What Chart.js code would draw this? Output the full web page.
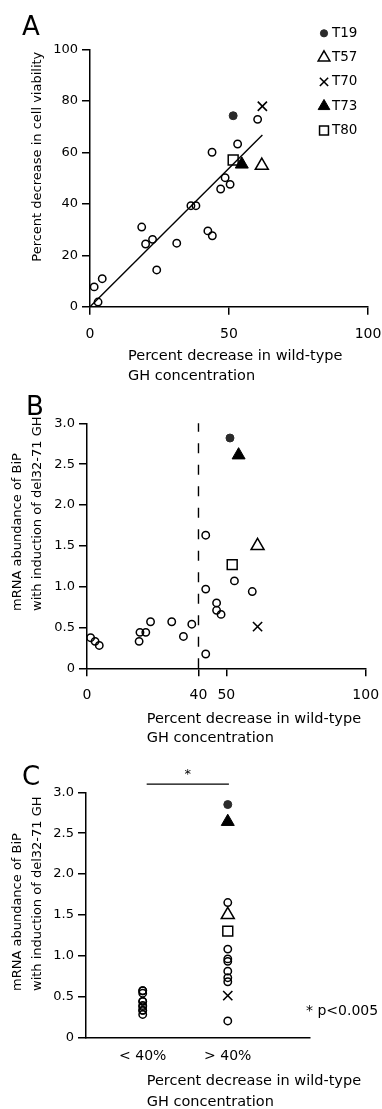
<!DOCTYPE html>
<html>
<head>
<meta charset="utf-8">
<script src="https://cdn.jsdelivr.net/npm/chart.js@4.4.1/dist/chart.umd.min.js"></script>
<style>
  html, body { margin: 0; padding: 0; background: #fff; }
  body { width: 382px; height: 1109px; position: relative; overflow: hidden; }
  canvas { position: absolute; left: 0; }
</style>
</head>
<body>
<canvas id="panelA" width="382" height="390" style="top:0px"></canvas>
<canvas id="panelB" width="382" height="360" style="top:390px"></canvas>
<canvas id="panelC" width="382" height="359" style="top:750px"></canvas>
<script>
// labelled tumours, same order everywhere
var sampleNames = ['T19', 'T57', 'T70', 'T73', 'T80'];

// panel A: decrease in wild-type GH vs decrease in cell viability
var aOpenX = [60.3, 53.1, 43.9, 48.6, 50.4, 47.0, 36.3, 38.1, 18.6, 20.0, 22.5, 31.2, 24.0, 42.4, 44.0, 1.5, 4.4, 2.9];
var aOpenY = [72.9, 63.3, 60.1, 50.2, 47.6, 45.8, 39.3, 39.3, 31.0, 24.4, 26.2, 24.7, 14.3, 29.5, 27.6, 7.7, 10.9, 1.8];
var aSampleX = [51.5, 61.8, 62.0, 54.6, 51.5];
var aSampleY = [74.3, 54.9, 78.0, 55.4, 57.1];
var aFitX = [0, 62];
var aFitY = [0, 66.8];
var aTicksX = [0, 50, 100];
var aTicksY = [0, 20, 40, 60, 80, 100];

// panel B: decrease in wild-type GH vs BiP mRNA
var bOpenX = [42.6, 52.9, 59.3, 42.6, 46.5, 46.5, 48.1, 42.6, 37.6, 34.6, 30.4, 22.8, 21.1, 19.0, 18.7, 1.3, 2.9, 4.4];
var bOpenY = [1.63, 1.07, 0.94, 0.97, 0.80, 0.71, 0.66, 0.175, 0.54, 0.39, 0.57, 0.57, 0.44, 0.44, 0.33, 0.375, 0.33, 0.28];
var bSampleX = [51.3, 61.2, 61.2, 54.4, 52.1];
var bSampleY = [2.82, 1.50, 0.51, 2.61, 1.27];
var bCutX = [40, 40];
var bCutY = [0, 3];
var bTicksX = [0, 40, 50, 100];
var bTicksY = [0, 0.5, 1, 1.5, 2, 2.5, 3];

// panel C: BiP mRNA grouped by GH decrease
var groupLabels = ['< 40%', '> 40%'];
var groupPos = [1, 2.5];
var cLowY = [0.54, 0.39, 0.57, 0.57, 0.44, 0.44, 0.33, 0.375, 0.33, 0.28];
var cHighY = [1.65, 1.08, 0.96, 0.93, 0.81, 0.73, 0.68, 0.20];
var cSampleY = [2.85, 1.50, 0.51, 2.64, 1.30];
var sigBarX = [1.07, 2.52];
var sigBarY = [3.1, 3.1];

var FONT = '"DejaVu Sans", "Liberation Sans", Arial, sans-serif';

var markers = {
    T19: { pointStyle: 'circle', pointRadius: 4, pointBackgroundColor: '#2b2b2b', pointBorderColor: '#2b2b2b', pointBorderWidth: 1 },
    T57: { pointStyle: 'triangle', pointRadius: 7.5, pointBackgroundColor: 'rgba(0,0,0,0)', pointBorderColor: '#000', pointBorderWidth: 1.5 },
    T70: { pointStyle: 'crossRot', pointRadius: 6.5, pointBackgroundColor: 'rgba(0,0,0,0)', pointBorderColor: '#000', pointBorderWidth: 1.6 },
    T73: { pointStyle: 'triangle', pointRadius: 7.5, pointBackgroundColor: '#000', pointBorderColor: '#000', pointBorderWidth: 1 },
    T80: { pointStyle: 'rect', pointRadius: 7, pointBackgroundColor: 'rgba(0,0,0,0)', pointBorderColor: '#000', pointBorderWidth: 1.5 }
};

function pts(xs, ys) {
    return xs.map(function (x, i) { return { x: x, y: ys[i] }; });
}

function column(x, ys) {
    return ys.map(function (y) { return { x: x, y: y }; });
}

function sampleSets(xs, ys) {
    return sampleNames.map(function (name, i) {
        return Object.assign({ label: name, data: [{ x: xs[i], y: ys[i] }] }, markers[name]);
    });
}

function openSet(data) {
    return {
        label: 'other', data: data, pointStyle: 'circle', pointRadius: 3.7,
        pointBackgroundColor: 'rgba(0,0,0,0)', pointBorderColor: '#000', pointBorderWidth: 1.5
    };
}

function lineSet(data, dash) {
    return {
        label: 'line', data: data, showLine: true, pointRadius: 0, borderColor: '#000',
        borderWidth: 1.4, borderDash: dash || [], clip: false
    };
}

function oneDecimal(v) {
    return v === 0 ? '0' : v.toFixed(1);
}

function axis(o) {
    return {
        type: 'linear', min: o.min, max: o.max,
        afterBuildTicks: function (s) { s.ticks = o.ticks.map(function (v) { return { value: v }; }); },
        afterFit: function (s) {
            if (o.width) s.width = o.width;
            if (o.height) s.height = o.height;
            // let layout.padding alone place the plot area
            s.paddingLeft = 0;
            s.paddingRight = 0;
            s.paddingTop = 0;
            s.paddingBottom = 0;
        },
        ticks: {
            color: '#000', font: { family: FONT, size: o.fontSize }, padding: o.pad,
            autoSkip: false, maxRotation: 0, callback: o.format
        },
        grid: { drawOnChartArea: false, drawTicks: o.tickLen > 0, tickLength: o.tickLen, color: '#000', lineWidth: 1.5 },
        border: { color: '#000', width: 1.5 }
    };
}

// panel letters, axis titles, legend and notes
var panelText = {
    id: 'panelText',
    afterDraw: function (chart, args, o) {
        var ctx = chart.ctx, a = chart.chartArea;
        ctx.save();
        ctx.fillStyle = '#000';
        ctx.textAlign = 'left';
        ctx.textBaseline = 'alphabetic';
        ctx.font = '26px ' + FONT;
        ctx.fillText(o.letter, o.letterX, o.letterY);

        ctx.font = '14.5px ' + FONT;
        ctx.textBaseline = 'middle';
        o.xTitle.forEach(function (line, i) {
            ctx.fillText(line, a.left + o.xTitleDx, a.bottom + o.xTitleDy + i * o.xTitleGap);
        });

        ctx.font = '13px ' + FONT;
        o.yTitle.forEach(function (line, i) {
            ctx.save();
            ctx.translate(o.yTitleX[i], o.yTitleY);
            ctx.rotate(-Math.PI / 2);
            ctx.textAlign = o.yTitleAlign;
            ctx.fillText(line, 0, 0);
            ctx.restore();
        });

        if (o.legend) {
            sampleNames.forEach(function (name, i) {
                var m = markers[name];
                var y = 33.3 + i * 24.3;
                ctx.fillStyle = m.pointBackgroundColor;
                ctx.strokeStyle = m.pointBorderColor;
                ctx.lineWidth = m.pointBorderWidth;
                Chart.helpers.drawPoint(ctx, {
                    pointStyle: m.pointStyle, radius: m.pointRadius * 0.9,
                    rotation: 0, borderWidth: m.pointBorderWidth
                }, 324, y);
                ctx.fillStyle = '#000';
                ctx.font = '13.5px ' + FONT;
                ctx.textAlign = 'left';
                ctx.fillText(name, 332, y);
            });
        }

        if (o.star) {
            var xs = chart.scales.x, ys = chart.scales.y;
            ctx.font = '13px ' + FONT;
            ctx.textAlign = 'center';
            ctx.textBaseline = 'bottom';
            ctx.fillText('*', xs.getPixelForValue((sigBarX[0] + sigBarX[1]) / 2), ys.getPixelForValue(sigBarY[0]) - 3);
            ctx.font = '14px ' + FONT;
            ctx.textAlign = 'left';
            ctx.textBaseline = 'middle';
            ctx.fillText(o.note, a.right - 4, a.bottom - 25.6);
        }
        ctx.restore();
    }
};

var xTitleLines = ['Percent decrease in wild-type', 'GH concentration'];
var bipTitle = ['mRNA abundance of BiP', 'with induction of del32-71 GH'];

function makeChart(id, datasets, scales, padding, textOpts) {
    return new Chart(document.getElementById(id), {
        type: 'scatter',
        data: { datasets: datasets },
        options: {
            responsive: false,
            animation: false,
            events: [],
            layout: { padding: padding },
            plugins: { legend: { display: false }, tooltip: { enabled: false }, panelText: textOpts },
            scales: scales
        },
        plugins: [panelText]
    });
}

makeChart('panelA',
    sampleSets(aSampleX, aSampleY).concat([openSet(pts(aOpenX, aOpenY)), lineSet(pts(aFitX, aFitY))]),
    {
        x: axis({ min: 0, max: 100, ticks: aTicksX, fontSize: 14, pad: 11, tickLen: 8, height: 83.3 }),
        y: axis({ min: 0, max: 100, ticks: aTicksY, fontSize: 13, pad: 4, tickLen: 8, width: 90 })
    },
    { left: 0, right: 14, top: 49.7, bottom: 0 },
    {
        letter: 'A', letterX: 22, letterY: 35,
        xTitle: xTitleLines, xTitleDx: 38, xTitleDy: 50, xTitleGap: 20,
        yTitle: ['Percent decrease in cell viability'], yTitleX: [38], yTitleY: 51.7, yTitleAlign: 'right',
        legend: true
    });

makeChart('panelB',
    sampleSets(bSampleX, bSampleY).concat([openSet(pts(bOpenX, bOpenY)), lineSet(pts(bCutX, bCutY), [10, 11.5])]),
    {
        x: axis({ min: 0, max: 100, ticks: bTicksX, fontSize: 14, pad: 11, tickLen: 8, height: 81.7 }),
        y: axis({ min: 0, max: 3, ticks: bTicksY, fontSize: 13, pad: 4, tickLen: 8, width: 87, format: oneDecimal })
    },
    { left: 0, right: 16.3, top: 33.3, bottom: 0 },
    {
        letter: 'B', letterX: 26, letterY: 25,
        xTitle: xTitleLines, xTitleDx: 59.7, xTitleDy: 50.7, xTitleGap: 19.5,
        yTitle: bipTitle, yTitleX: [18, 38], yTitleY: 221, yTitleAlign: 'left'
    });

var cSets = sampleNames.map(function (name, i) {
    return Object.assign({ label: name, data: [{ x: groupPos[1], y: cSampleY[i] }] }, markers[name]);
});
cSets = cSets.concat([
    openSet(column(groupPos[0], cLowY)),
    openSet(column(groupPos[1], cHighY)),
    lineSet(pts(sigBarX, sigBarY))
]);

makeChart('panelC', cSets,
    {
        x: axis({
            min: 0, max: 3.95, ticks: groupPos, fontSize: 14, pad: 11, tickLen: 0, height: 71.7,
            format: function (v) { return groupLabels[groupPos.indexOf(v)]; }
        }),
        y: axis({ min: 0, max: 3, ticks: bTicksY, fontSize: 13, pad: 4, tickLen: 8, width: 86, format: oneDecimal })
    },
    { left: 0, right: 72, top: 42.3, bottom: 0 },
    {
        letter: 'C', letterX: 22, letterY: 35,
        xTitle: xTitleLines, xTitleDx: 60.7, xTitleDy: 44.4, xTitleGap: 20.6,
        yTitle: bipTitle, yTitleX: [18, 38], yTitleY: 241, yTitleAlign: 'left',
        star: true, note: '* p<0.005'
    });
</script>
</body>
</html>
